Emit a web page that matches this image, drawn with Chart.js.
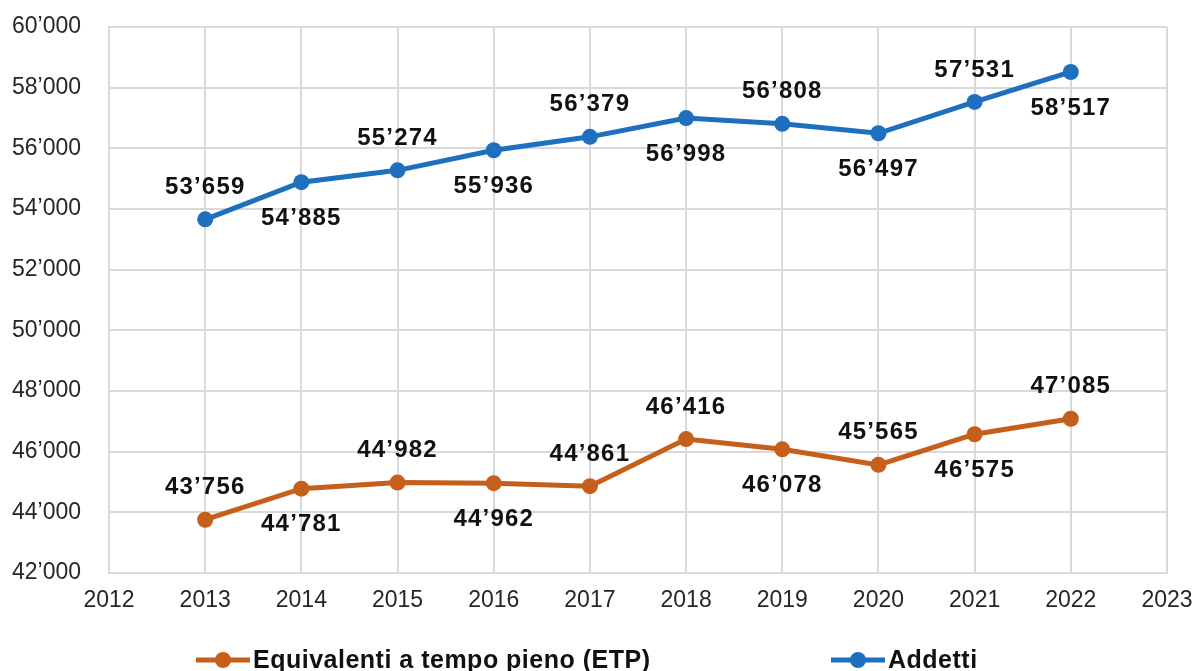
<!DOCTYPE html>
<html>
<head>
<meta charset="utf-8">
<script src="https://cdn.jsdelivr.net/npm/chart.js@4.4.1/dist/chart.umd.min.js"></script>
<style>
  html, body { margin: 0; padding: 0; background: #fff; }
  #wrap { width: 1195px; height: 671px; }
</style>
</head>
<body>
<div id="wrap"><canvas id="lineChart"></canvas></div>
<script>
// dati
const anni = [2013, 2014, 2015, 2016, 2017, 2018, 2019, 2020, 2021, 2022];
const addetti = [53659, 54885, 55274, 55936, 56379, 56998, 56808, 56497, 57531, 58517];
const etp = [43756, 44781, 44982, 44962, 44861, 46416, 46078, 45565, 46575, 47085];
const yTicks = [42000, 44000, 46000, 48000, 50000, 52000, 54000, 56000, 58000, 60000];

// posizione etichette (sopra / sotto il punto)
const posEtp = ["su", "giu", "su", "giu", "su", "su", "giu", "su", "giu", "su"];
const posAddetti = ["su", "giu", "su", "giu", "su", "giu", "su", "giu", "su", "giu"];

const blu = "#1f6fbf";
const arancio = "#c55f1b";

function formatta(v) {
  return String(v).replace(/\B(?=(\d{3})+(?!\d))/g, "\u2019");
}

// etichette dei valori
const etichette = {
  id: "etichette",
  afterDatasetsDraw(chart) {
    const ctx = chart.ctx;
    ctx.save();
    ctx.font = "bold 24px 'Liberation Sans', Arial, sans-serif";
    ctx.letterSpacing = "1.2px";
    ctx.fillStyle = "#111";
    ctx.textAlign = "center";
    ctx.textBaseline = "middle";
    chart.data.datasets.forEach((ds, i) => {
      const meta = chart.getDatasetMeta(i);
      meta.data.forEach((pt, j) => {
        const dy = ds.posizioni[j] === "su" ? -32 : 36;
        ctx.fillText(formatta(ds.data[j].y), pt.x, pt.y + dy);
      });
    });
    ctx.letterSpacing = "0px";
    ctx.restore();
  },
};

// legenda con linea e marcatore
const legenda = {
  id: "legenda",
  afterDraw(chart) {
    const ctx = chart.ctx;
    const y = 660;
    const voci = [
      { x: 196, testo: chart.data.datasets[0].label, colore: arancio },
      { x: 831, testo: chart.data.datasets[1].label, colore: blu },
    ];
    ctx.save();
    voci.forEach((v) => {
      ctx.strokeStyle = v.colore;
      ctx.lineWidth = 5;
      ctx.beginPath();
      ctx.moveTo(v.x, y);
      ctx.lineTo(v.x + 54, y);
      ctx.stroke();
      ctx.fillStyle = v.colore;
      ctx.beginPath();
      ctx.arc(v.x + 27, y, 8, 0, Math.PI * 2);
      ctx.fill();
      ctx.fillStyle = "#111";
      ctx.font = "bold 25px 'Liberation Sans', Arial, sans-serif";
      ctx.letterSpacing = "0.5px";
      ctx.textBaseline = "middle";
      ctx.textAlign = "left";
      ctx.fillText(v.testo, v.x + 57, y + 1);
      ctx.letterSpacing = "0px";
    });
    ctx.restore();
  },
};

let ctx = document.getElementById("lineChart");

let lineChart = new Chart(ctx, {
  type: "line",
  data: {
    datasets: [
      {
        label: "Equivalenti a tempo pieno (ETP)",
        data: anni.map((a, i) => ({ x: a, y: etp[i] })),
        posizioni: posEtp,
        borderColor: arancio,
        backgroundColor: arancio,
        borderWidth: 5,
        pointRadius: 8,
        pointHoverRadius: 8,
        pointBorderWidth: 0,
      },
      {
        label: "Addetti",
        data: anni.map((a, i) => ({ x: a, y: addetti[i] })),
        posizioni: posAddetti,
        borderColor: blu,
        backgroundColor: blu,
        borderWidth: 5,
        pointRadius: 8,
        pointHoverRadius: 8,
        pointBorderWidth: 0,
      },
    ],
  },
  options: {
    responsive: true,
    maintainAspectRatio: false,
    animation: false,
    layout: { padding: { top: 27, right: 28, bottom: 48, left: 0 } },
    plugins: {
      legend: { display: false },
      tooltip: { enabled: false },
    },
    scales: {
      x: {
        type: "linear",
        min: 2012,
        max: 2023,
        afterFit: (scale) => {
          scale.height = 50;
          scale.paddingLeft = 0;
          scale.paddingRight = 0;
        },
        ticks: {
          stepSize: 1,
          padding: 14,
          color: "#262626",
          font: { size: 23, family: "'Liberation Sans', Arial, sans-serif" },
          callback: (v) => String(v),
        },
        grid: { color: "#d9d9d9", lineWidth: 2, drawTicks: false },
        border: { color: "#d9d9d9", width: 2 },
      },
      y: {
        min: 42000,
        max: 60000,
        afterFit: (scale) => {
          scale.width = 109;
          scale.paddingTop = 0;
          scale.paddingBottom = 0;
        },
        afterBuildTicks: (scale) => {
          scale.ticks = yTicks.map((v) => ({ value: v }));
        },
        ticks: {
          padding: 28,
          color: "#262626",
          font: { size: 23, family: "'Liberation Sans', Arial, sans-serif" },
          callback: (v) => formatta(v),
        },
        grid: { color: "#d9d9d9", lineWidth: 2, drawTicks: false },
        border: { color: "#d9d9d9", width: 2 },
      },
    },
  },
  plugins: [etichette, legenda],
});
</script>
</body>
</html>
